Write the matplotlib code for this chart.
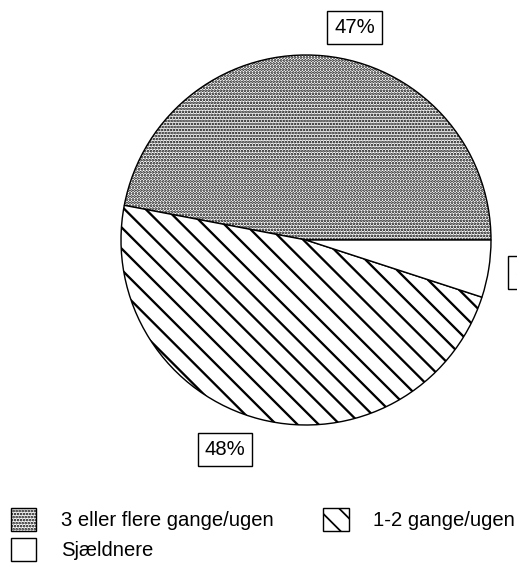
#pie chart of how often, with hatched wedges

import matplotlib.pyplot as plt
import numpy as np

# data
categories = ['3 eller flere gange/ugen', '1-2 gange/ugen', 'Sjældnere']
values = [47, 48, 5]

# style / layout
hatches = ['.......', '\\\\', '']
hatch_lw = [1.05, 1.3, 1.0]
label_pos = [(0.262, 1.149), (-0.438, -1.132), (1.21, -0.176)]

DPI = 127
FS = 20.3 * 72 / DPI  # ~20px text

plt.rcParams['font.family'] = ['Liberation Sans', 'DejaVu Sans']
plt.rcParams['hatch.linewidth'] = 1.0

fig = plt.figure(figsize=(517 / DPI, 563 / DPI), dpi=DPI)
ax = fig.add_axes([121 / 517, (563 - 425) / 563, 370 / 517, 370 / 563])

wedges, _ = ax.pie(values, startangle=0, counterclock=True, radius=1,
                   wedgeprops=dict(facecolor='white', edgecolor='black', linewidth=0.8))
for w, h, lw in zip(wedges, hatches, hatch_lw):
	w.set_hatch(h)
	if hasattr(w, 'set_hatch_linewidth'):
		w.set_hatch_linewidth(lw)

for v, (x, y) in zip(values, label_pos):
	ax.text(x, y, f'{v}%', ha='center', va='center', fontsize=FS, clip_on=False,
			bbox=dict(boxstyle='square,pad=0.33', fc='white', ec='black', lw=0.8))

ax.set_xlim(-1, 1)
ax.set_ylim(-1, 1)
ax.set_aspect('equal')
ax.axis('off')

# row-major order in the legend: reorder for matplotlib's column filling
order = [0, 2, 1]
fig.legend([wedges[i] for i in order], [categories[i] for i in order], ncol=2,
		   frameon=False, fontsize=FS,
		   loc='upper left', bbox_to_anchor=(11 / 517, 1 - 508 / 563),
		   handlelength=1.25, handleheight=1.35, handletextpad=1.2,
		   columnspacing=2.45, labelspacing=0.35, borderaxespad=0, borderpad=0)

plt.savefig('out.png', dpi=DPI)
